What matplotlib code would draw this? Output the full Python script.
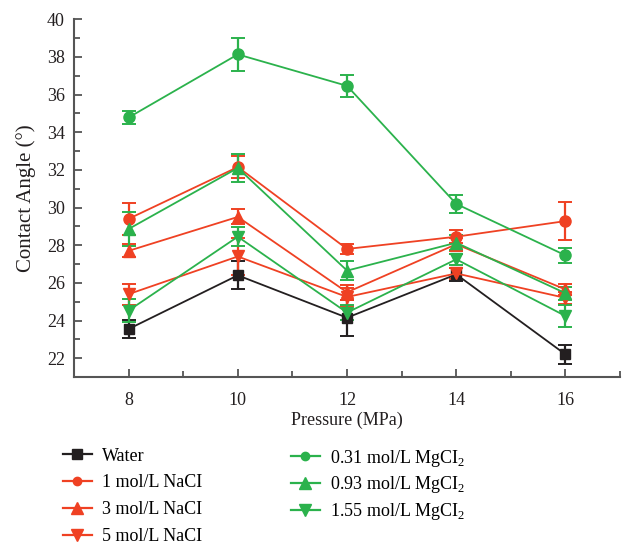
import matplotlib
matplotlib.use("Agg")
import matplotlib.pyplot as plt
from matplotlib.lines import Line2D
from matplotlib.ticker import MultipleLocator

plt.rcParams["font.family"] = ["Liberation Serif", "DejaVu Serif"]
plt.rcParams["mathtext.fontset"] = "custom"
plt.rcParams["mathtext.rm"] = "Liberation Serif"

pressure = [8, 10, 12, 14, 16]

water = [23.55, 26.4, 24.15, 26.45, 22.2]
water_err = [0.5, 0.75, 0.95, 0.35, 0.5]
nacl_1 = [29.4, 32.15, 27.8, 28.45, 29.28]
nacl_1_err = [0.85, 0.6, 0.25, 0.35, 1.0]
nacl_3 = [27.7, 29.5, 25.5, 28.05, 25.65]
nacl_3_err = [0.35, 0.4, 0.4, 0.35, 0.3]
nacl_5 = [25.4, 27.4, 25.25, 26.5, 25.2]
nacl_5_err = [0.55, 1.0, 0.5, 0.3, 0.3]
mgcl_031 = [34.78, 38.13, 36.46, 30.19, 27.46]
mgcl_031_err = [0.36, 0.86, 0.57, 0.49, 0.4]
mgcl_093 = [28.86, 32.1, 26.65, 28.13, 25.45]
mgcl_093_err = [0.88, 0.74, 0.49, 0.4, 0.35]
mgcl_155 = [24.53, 28.45, 24.42, 27.25, 24.24]
mgcl_155_err = [0.62, 0.5, 0.4, 0.3, 0.57]

BLACK = "#231f20"
RED = "#ef4123"
GREEN = "#2bb24c"

series = [
    ("Water", water, water_err, BLACK, "s", 7),
    ("1 mol/L NaCI", nacl_1, nacl_1_err, RED, "o", 8),
    ("3 mol/L NaCI", nacl_3, nacl_3_err, RED, "^", 8),
    ("5 mol/L NaCI", nacl_5, nacl_5_err, RED, "v", 8),
    ("0.31 mol/L MgCI$_2$", mgcl_031, mgcl_031_err, GREEN, "o", 8),
    ("0.93 mol/L MgCI$_2$", mgcl_093, mgcl_093_err, GREEN, "^", 8),
    ("1.55 mol/L MgCI$_2$", mgcl_155, mgcl_155_err, GREEN, "v", 8),
]

fig = plt.figure(figsize=(6.27, 5.48), dpi=100)
ax = fig.add_axes([0.118, 0.312, 0.871, 0.653])

handles = []
for label, vals, errs, color, marker, ms in series:
    ax.errorbar(pressure, vals, yerr=errs, color=color, marker=marker,
                markersize=ms, linewidth=1.3, elinewidth=1.6, capsize=5,
                capthick=1.4, ecolor=color)
    legend_ms = {"s": 7, "o": 6, "^": 9, "v": 9}[marker]
    handles.append(Line2D([], [], color=color, marker=marker, linewidth=1.6,
                          markersize=legend_ms, label=label))

ax.set_xlim(7, 17)
ax.set_ylim(21, 40)
ax.xaxis.set_major_locator(MultipleLocator(2))
ax.xaxis.set_minor_locator(MultipleLocator(1))
ax.yaxis.set_major_locator(MultipleLocator(2))
ax.yaxis.set_minor_locator(MultipleLocator(1))
ax.set_xticks([8, 10, 12, 14, 16])
ax.tick_params(which="both", direction="in", colors="#555555",
               labelcolor="#231f20", labelsize=13, width=1.3)
ax.tick_params(which="major", length=6)
ax.tick_params(which="minor", length=4)
ax.tick_params(axis="x", which="major", pad=10.5)
ax.tick_params(axis="y", which="major", pad=6.5)
for side in ("top", "right"):
    ax.spines[side].set_visible(False)
for side in ("left", "bottom"):
    ax.spines[side].set_color("#555555")
    ax.spines[side].set_linewidth(1.5)

ax.set_xlabel("Pressure (MPa)", fontsize=13, color="#231f20", labelpad=2)
ax.set_ylabel("Contact Angle (°)", fontsize=15, color="#231f20", labelpad=8)

# two legend columns drawn separately so the rows line up
legend_kw = dict(loc="upper left", frameon=False, fontsize=13,
                 handlelength=1.6, handletextpad=0.6)
fig.legend(handles=handles[:4], bbox_to_anchor=(0.074, 0.213),
           labelspacing=0.55, **legend_kw)
fig.legend(handles=handles[4:], bbox_to_anchor=(0.4376, 0.213),
           labelspacing=0.33, **legend_kw)

fig.savefig("out.png", dpi=100)
